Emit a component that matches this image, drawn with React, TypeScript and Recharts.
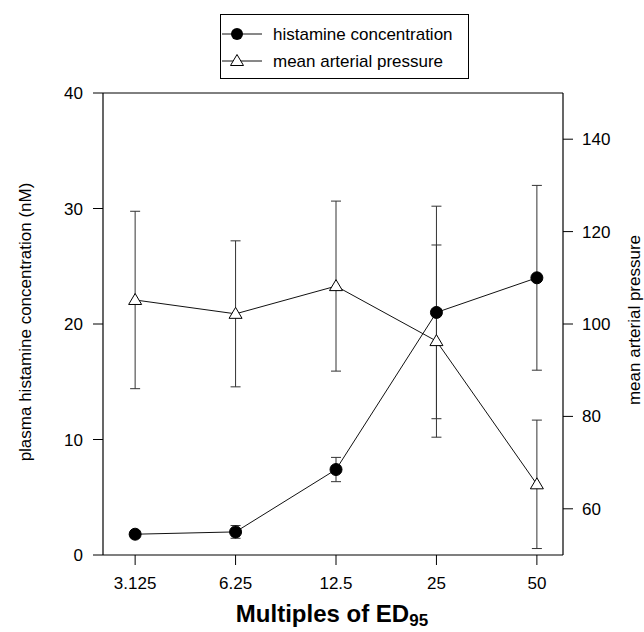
import React from 'react';
import {
  ComposedChart,
  Line,
  XAxis,
  YAxis,
  ErrorBar,
  Legend,
  Label,
  ReferenceLine,
} from 'recharts';

const doseLabels = ['3.125', '6.25', '12.5', '25', '50'];
const doseIndex = [0, 1, 2, 3, 4];
const histamine = [1.8, 2.0, 7.4, 21.0, 24.0];
const histamineErr = [0.3, 0.55, 1.05, 9.2, 8.0];
const pressure = [105.2, 102.2, 108.2, 96.3, 65.3];
const pressureErr = [19.2, 15.8, 18.4, 20.8, 13.9];
const leftTicks = [0, 10, 20, 30, 40];
const rightTicks = [60, 80, 100, 120, 140];

const data = doseIndex.map((idx, i) => ({
  idx,
  dose: doseLabels[i],
  histamine: histamine[i],
  histamineErr: histamineErr[i],
  pressure: pressure[i],
  pressureErr: pressureErr[i],
}));

const FONT = '"Liberation Sans", Arial, Helvetica, sans-serif';
const INK = '#111';

const CircleDot = (props: any) => {
  const { cx, cy, index } = props;
  if (cx == null || cy == null) return <g key={`c-${index}`} />;
  return <circle key={`c-${index}`} cx={cx} cy={cy} r={6} fill="#000" stroke="#000" strokeWidth={1} />;
};

const TriDot = (props: any) => {
  const { cx, cy, index } = props;
  if (cx == null || cy == null) return <g key={`t-${index}`} />;
  return (
    <polygon
      key={`t-${index}`}
      points={`${cx},${cy - 6.5} ${cx - 6.5},${cy + 4.5} ${cx + 6.5},${cy + 4.5}`}
      fill="#fff"
      stroke="#000"
      strokeWidth={1}
    />
  );
};

const LegendBox = () => (
  <svg width={250} height={66} style={{ display: 'block', overflow: 'visible' }}>
    <rect x={0.5} y={0.5} width={248} height={64} fill="#fff" stroke="#000" strokeWidth={1} />
    <line x1={2} y1={20} x2={42} y2={20} stroke={INK} strokeWidth={1} />
    <circle cx={17} cy={20} r={6} fill="#000" />
    <text x={53} y={20} dominantBaseline="central" fontSize={17} fontFamily={FONT} fill="#000">
      histamine concentration
    </text>
    <line x1={2} y1={47} x2={42} y2={47} stroke={INK} strokeWidth={1} />
    <polygon points={`17,40.5 10.5,51.5 23.5,51.5`} fill="#fff" stroke="#000" strokeWidth={1} />
    <text x={53} y={47} dominantBaseline="central" fontSize={17} fontFamily={FONT} fill="#000">
      mean arterial pressure
    </text>
  </svg>
);

const tickStyle = { fontSize: 17, fontFamily: FONT, fill: '#000' };

export default function App() {
  return (
    <div style={{ position: 'absolute', left: 0, top: 0, width: 644, height: 632, background: '#fff', fontFamily: FONT }}>
      <ComposedChart
        width={644}
        height={632}
        data={data}
        margin={{ top: 93, right: 21, bottom: 47, left: 43 }}
      >
        <XAxis
          dataKey="idx"
          type="number"
          domain={[-0.32, 4.26]}
          ticks={doseIndex}
          tickFormatter={(v: number) => doseLabels[v] ?? ''}
          allowDataOverflow
          height={30}
          tickSize={10}
          tickMargin={12}
          tick={tickStyle}
          axisLine={{ stroke: '#000', strokeWidth: 1.2 }}
          tickLine={{ stroke: '#000' }}
        >
          <Label
            content={() => (
              <text x={332} y={622} textAnchor="middle" fontSize={24} fontWeight="bold" fontFamily={FONT} fill="#000">
                Multiples of ED
                <tspan fontSize={17} dy={4}>95</tspan>
              </text>
            )}
          />
        </XAxis>
        <YAxis
          yAxisId="left"
          orientation="left"
          domain={[0, 40]}
          ticks={leftTicks}
          width={60}
          tickSize={10}
          tickMargin={10}
          tick={tickStyle}
          axisLine={{ stroke: '#000', strokeWidth: 1.2 }}
          tickLine={{ stroke: '#000' }}
        >
          <Label
            content={() => (
              <text
                x={25}
                y={322}
                transform="rotate(-90 25 322)"
                textAnchor="middle"
                dominantBaseline="central"
                fontSize={17}
                fontFamily={FONT}
                fill="#000"
              >
                plasma histamine concentration (nM)
              </text>
            )}
          />
        </YAxis>
        <YAxis
          yAxisId="right"
          orientation="right"
          domain={[50, 150]}
          ticks={rightTicks}
          width={60}
          tickSize={10}
          tickMargin={9}
          tick={tickStyle}
          axisLine={{ stroke: '#000', strokeWidth: 1.2 }}
          tickLine={{ stroke: '#000' }}
        >
          <Label
            content={() => (
              <text
                x={634}
                y={320}
                transform="rotate(-90 634 320)"
                textAnchor="middle"
                dominantBaseline="central"
                fontSize={17}
                fontFamily={FONT}
                fill="#000"
              >
                mean arterial pressure
              </text>
            )}
          />
        </YAxis>
        <ReferenceLine yAxisId="left" y={40} stroke="#000" strokeWidth={1} />
        <Legend
          layout="horizontal"
          verticalAlign="middle"
          align="center"
          content={() => <LegendBox />}
          wrapperStyle={{ position: 'absolute', left: 220, top: 14, width: 250, height: 66 }}
        />
        <Line
          yAxisId="left"
          type="linear"
          dataKey="histamine"
          stroke={INK}
          strokeWidth={1}
          dot={CircleDot}
          activeDot={false}
          isAnimationActive={false}
          legendType="none"
        >
          <ErrorBar dataKey="histamineErr" width={5} stroke="#333" strokeWidth={1} direction="y" />
        </Line>
        <Line
          yAxisId="right"
          type="linear"
          dataKey="pressure"
          stroke={INK}
          strokeWidth={1}
          dot={TriDot}
          activeDot={false}
          isAnimationActive={false}
          legendType="none"
        >
          <ErrorBar dataKey="pressureErr" width={5} stroke="#333" strokeWidth={1} direction="y" />
        </Line>
      </ComposedChart>
    </div>
  );
}
